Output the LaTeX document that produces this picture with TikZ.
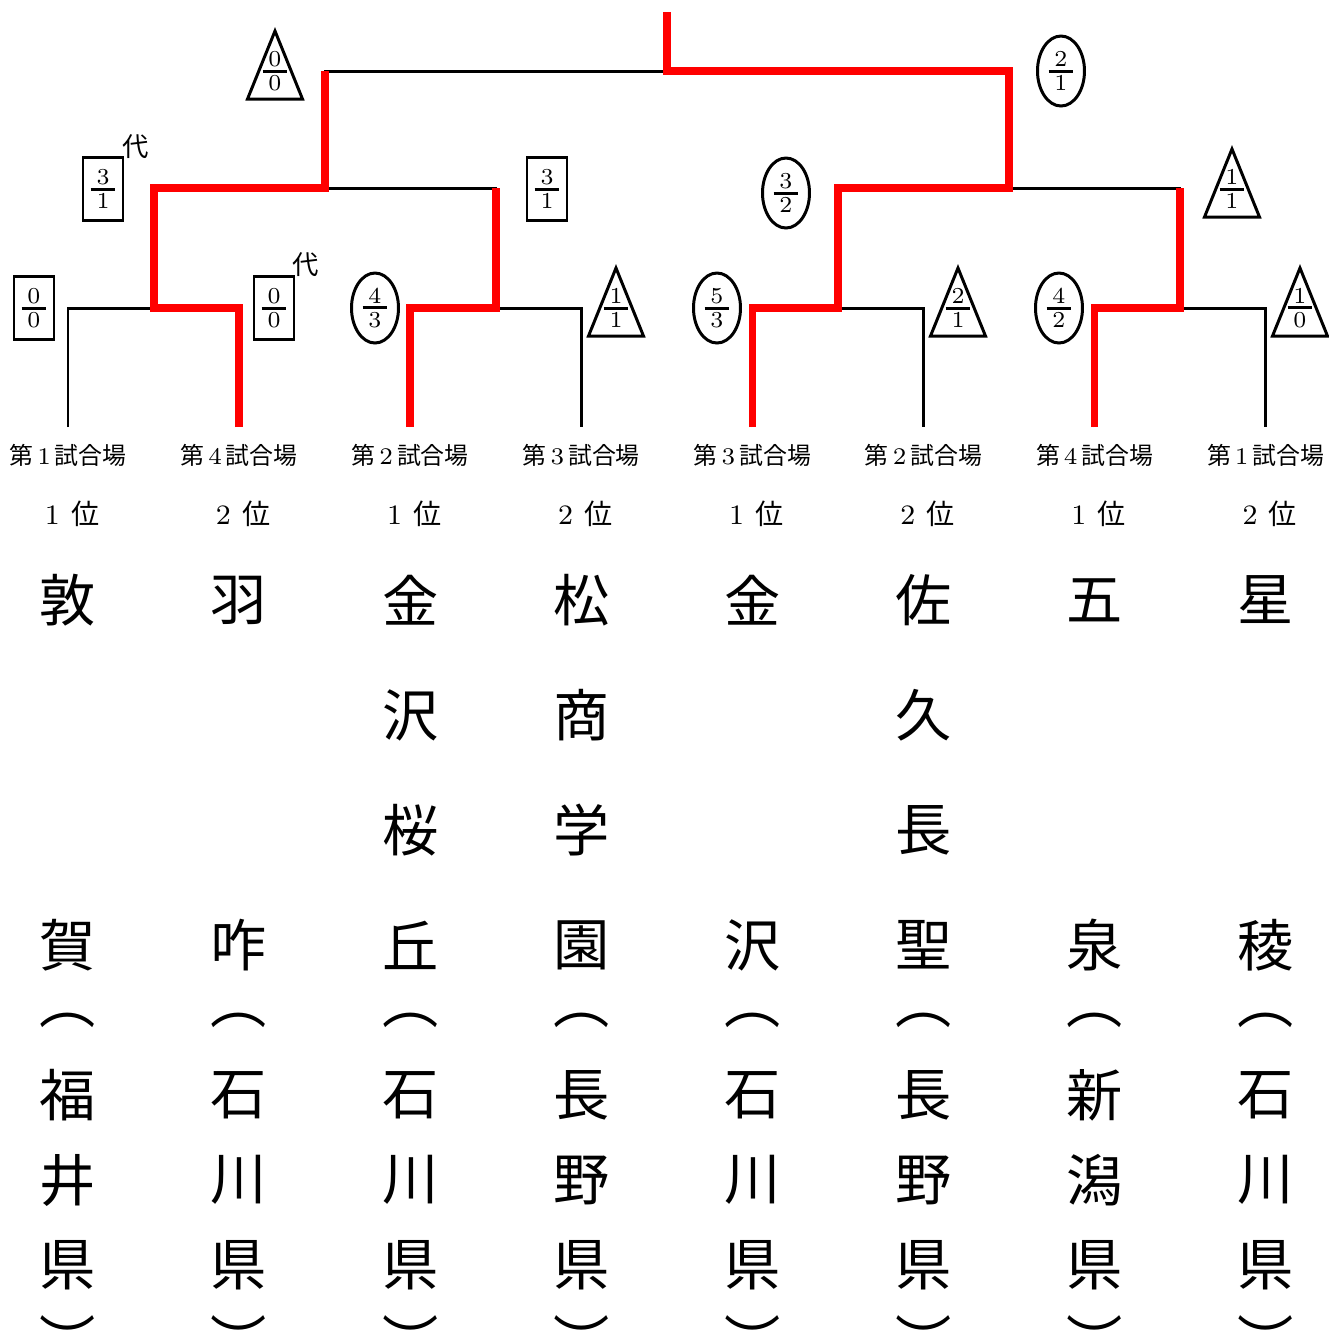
\documentclass[tikz,border=0pt]{standalone}
\usepackage{amsmath}
\usepackage{fontspec}
\newfontfamily\jp{Noto Sans CJK JP}
\usetikzlibrary{shapes.geometric}
\newcommand\score[2]{$\genfrac{}{}{0.85pt}{1}{\makebox[7pt]{#1}}{\makebox[7pt]{#2}}$}
\def\trimark(#1)(#2)#3#4{\node[trimark] (#1) at (#2) {\score{#3}{#4}};
  \draw[line] (#1.center) ++(0,0.40) -- ++(-0.275,-0.68) -- ++(0.55,0) -- cycle;}
\tikzset{
  line/.style={line width=0.85pt},
  win/.style={line width=2.2pt, color=red},
  boxmark/.style={draw, line width=0.85pt, rectangle, minimum width=0.40cm, minimum height=0.63cm, inner sep=0pt, font=\fontsize{6.5}{7}\selectfont},
  ellmark/.style={draw, line width=0.85pt, ellipse, minimum width=0.47cm, minimum height=0.70cm, inner sep=0pt, font=\fontsize{6.5}{7}\selectfont},
  trimark/.style={inner sep=0pt, font=\fontsize{6.5}{7}\selectfont},
  hall/.style={font=\jp\fontsize{6.8}{7}\selectfont, inner sep=0pt},
  rank/.style={font=\jp\fontsize{8}{8}\selectfont, inner sep=0pt},
  kanji/.style={font=\jp\fontsize{16}{16}\selectfont, inner sep=0pt},
  sub/.style={font=\jp\fontsize{7.5}{7.5}\selectfont, inner sep=0pt}
}

\begin{document}
\begin{tikzpicture}
	%%%%% START %%%%%
	\useasboundingbox (0,0) rectangle (13.29,-13.35);
	
	\foreach \i/\v/\r/\a/\b/\p/\q in {0/1/1/敦/賀/福/井, 1/4/2/羽/咋/石/川, 2/2/1/金/丘/石/川, 3/3/2/松/園/長/野, 4/3/1/金/沢/石/川, 5/2/2/佐/聖/長/野, 6/4/1/五/泉/新/潟, 7/1/2/星/稜/石/川}
	{
		\pgfmathsetmacro\x{0.68+1.711*\i}
		\coordinate (l\i) at (\x,-4.27);
		\node[hall] (v\i) at (\x,-4.55) {第\,{\rmfamily\v}\,試合場};
		\node[rank] (r\i) at (\x+0.04,-5.14) {{\rmfamily\r}\hspace{0.4em}位};
		\node[kanji] (na\i) at (\x,-6.00) {\a};
		\node[kanji] (nd\i) at (\x,-9.45) {\b};
		\node[kanji] (po\i) at (\x,-10.20) {︵};
		\node[kanji] (pa\i) at (\x,-10.95) {\p};
		\node[kanji] (pb\i) at (\x,-11.80) {\q};
		\node[kanji] (pc\i) at (\x,-12.65) {県};
		\node[kanji] (pe\i) at (\x,-13.39) {︶};
	}
	\foreach \i/\b/\c in {2/沢/桜, 3/商/学, 5/久/長}
	{
		\pgfmathsetmacro\x{0.68+1.711*\i}
		\node[kanji] (nb\i) at (\x,-7.15) {\b};
		\node[kanji] (nc\i) at (\x,-8.30) {\c};
	}
	
	\coordinate (m1) at (1.54,-3.08);
	\coordinate (m2) at (4.96,-3.08);
	\coordinate (m3) at (8.38,-3.08);
	\coordinate (m4) at (11.80,-3.08);
	\coordinate (s1) at (3.25,-1.88);
	\coordinate (s2) at (10.09,-1.88);
	\coordinate (f) at (6.67,-0.71);
	\coordinate (t) at (6.67,-0.12);
	
	\draw[line] (l0) |- (m1) -| (l1);
	\draw[line] (l2) |- (m2) -| (l3);
	\draw[line] (l4) |- (m3) -| (l5);
	\draw[line] (l6) |- (m4) -| (l7);
	\draw[line] (m1) |- (s1) -| (m2);
	\draw[line] (m3) |- (s2) -| (m4);
	\draw[line] (s1) |- (f) -| (s2);
	
	\draw[win] (l1) |- (m1) |- (s1) -- (s1 |- f);
	\draw[win] (l2) |- (m2) -- (m2 |- s1);
	\draw[win] (l4) |- (m3) |- (s2) |- (f) -- (t);
	\draw[win] (l6) |- (m4) -- (m4 |- s2);
	
	\node[boxmark] (k1) at (0.34,-3.08) {\score{0}{0}};
	\node[boxmark] (k2) at (2.74,-3.08) {\score{0}{0}};
	\node[sub] (d1) at (3.06,-2.65) {代};
	\node[ellmark] (k3) at (3.75,-3.08) {\score{4}{3}};
	\trimark(k4)(6.16,-3.08){1}{1}
	\node[ellmark] (k5) at (7.17,-3.08) {\score{5}{3}};
	\trimark(k6)(9.58,-3.08){2}{1}
	\node[ellmark] (k7) at (10.59,-3.08) {\score{4}{2}};
	\trimark(k8)(13.00,-3.08){1}{0}
	
	\node[boxmark] (q1) at (1.03,-1.89) {\score{3}{1}};
	\node[sub] (d2) at (1.36,-1.47) {代};
	\node[boxmark] (q2) at (5.47,-1.89) {\score{3}{1}};
	\node[ellmark] (q3) at (7.86,-1.93) {\score{3}{2}};
	\trimark(q4)(12.32,-1.89){1}{1}
	
	\trimark(w1)(2.75,-0.71){0}{0}
	\node[ellmark] (w2) at (10.61,-0.71) {\score{2}{1}};
	%%%%% END %%%%%
\end{tikzpicture}
\end{document}
